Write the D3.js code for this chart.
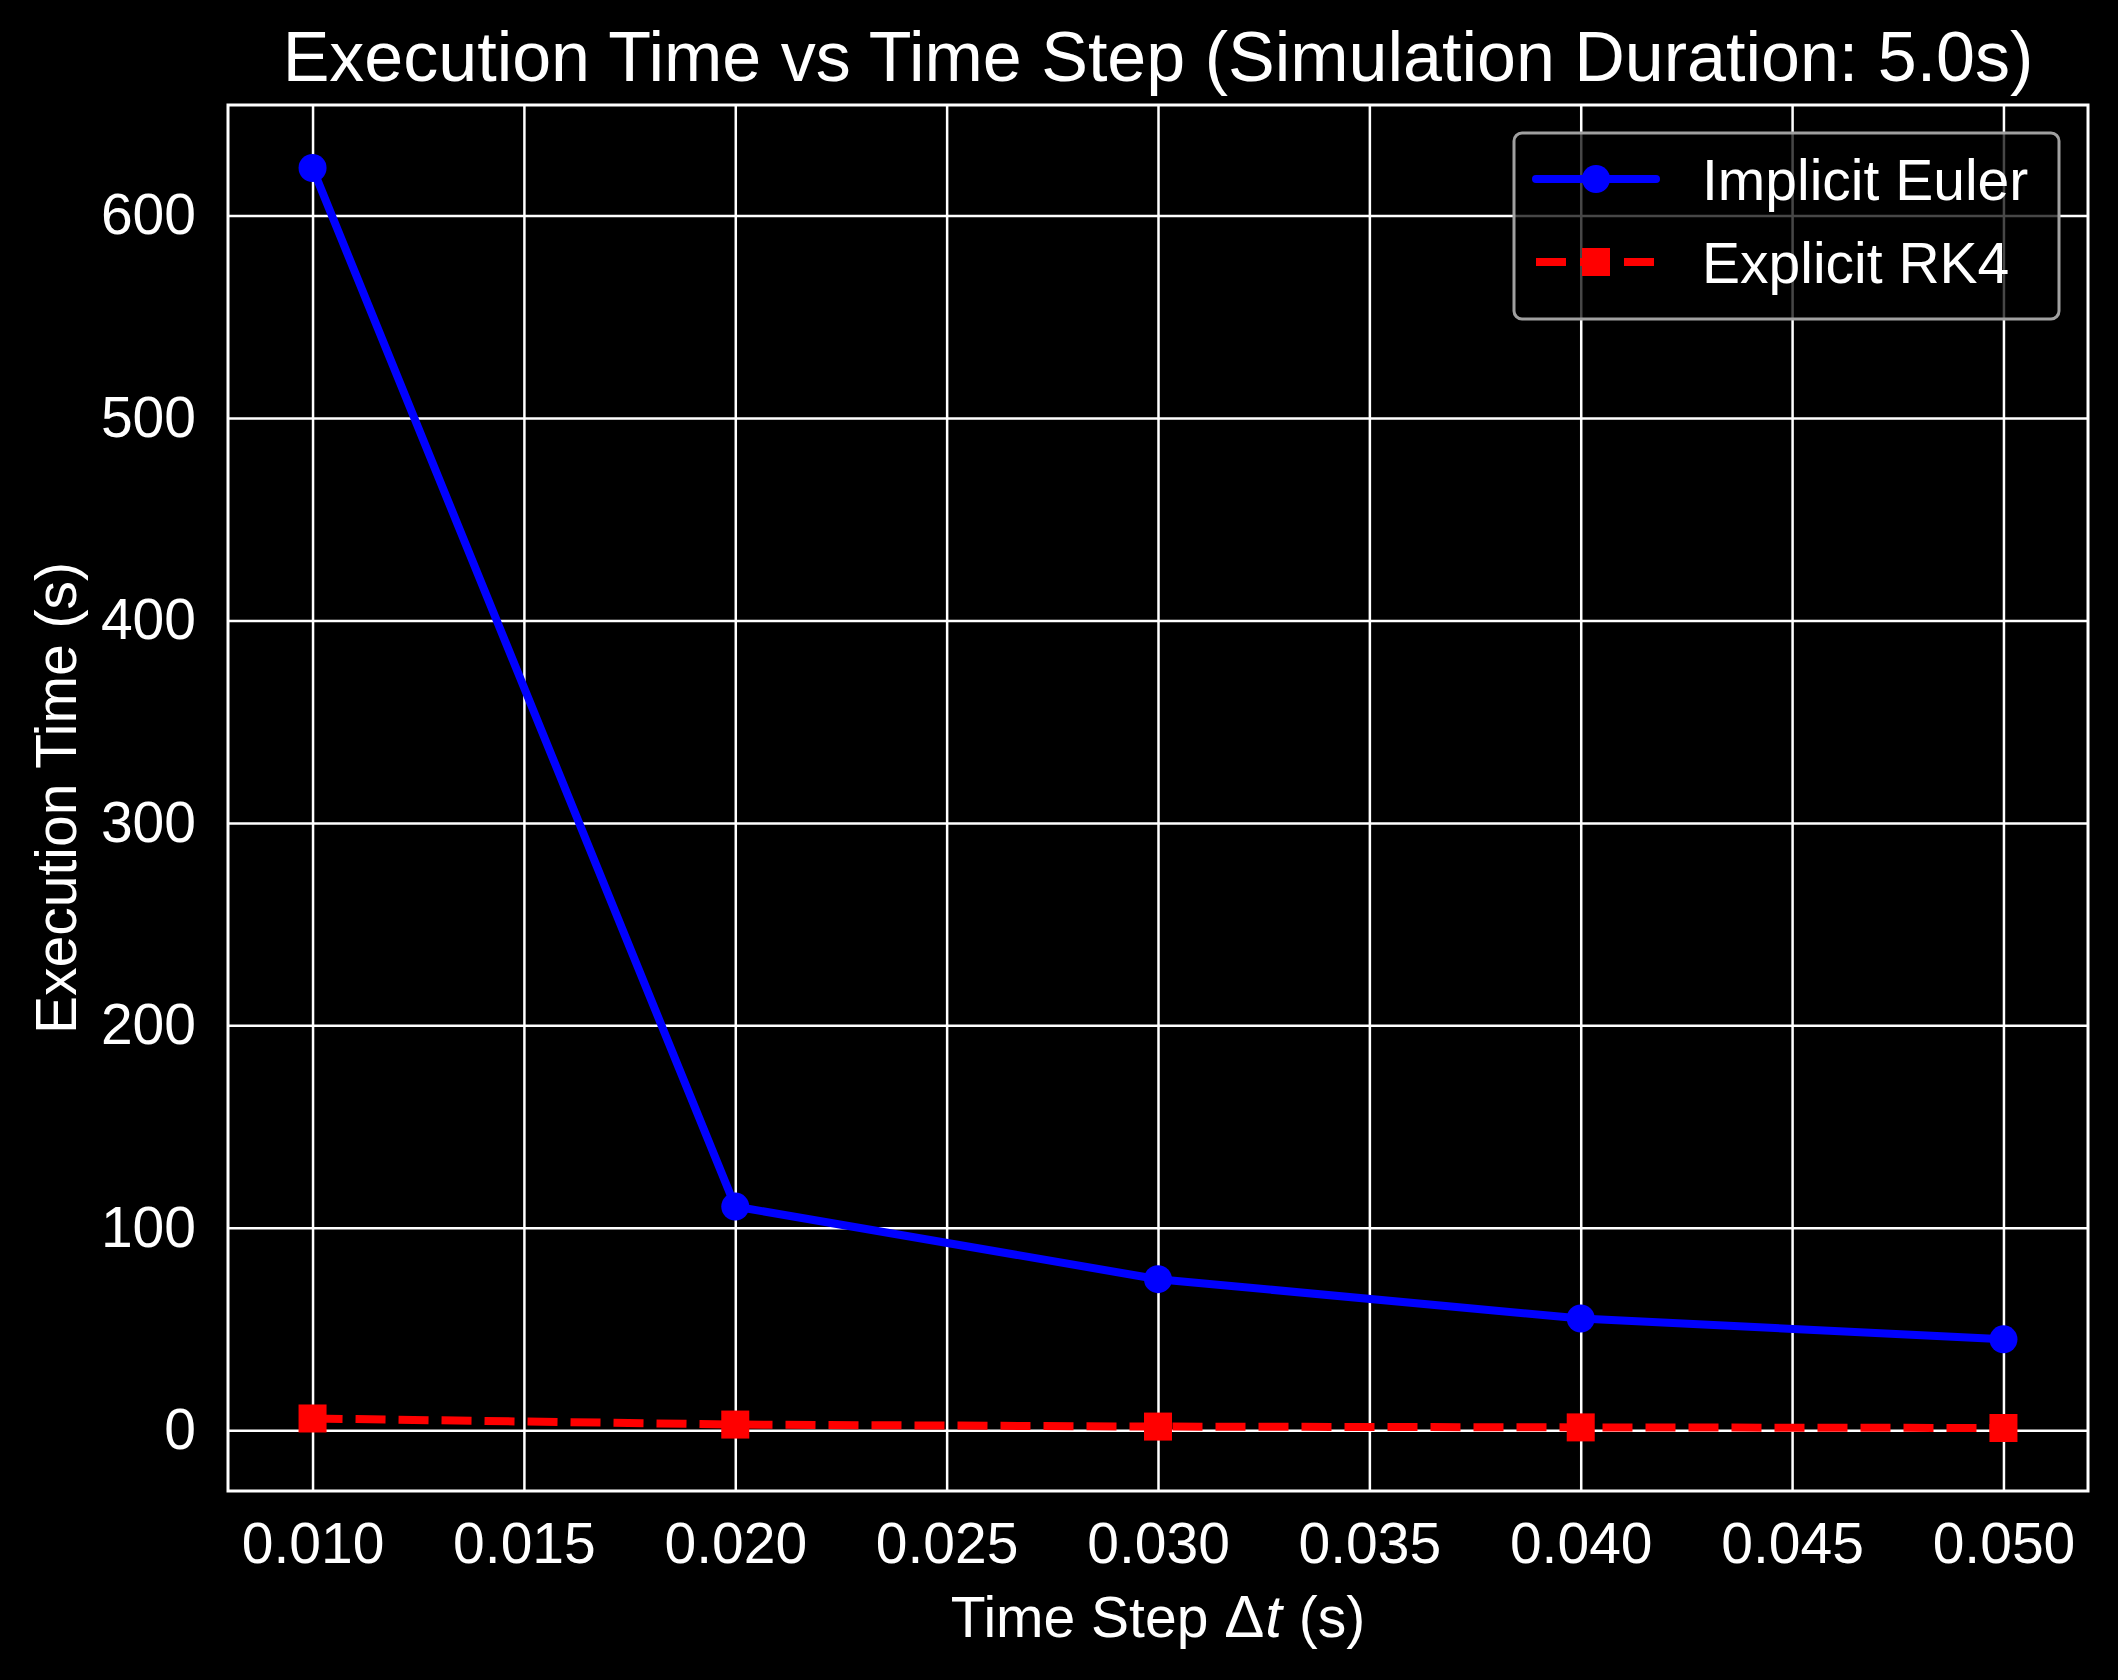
<!DOCTYPE html>
<html lang="en">
<head>
    <meta charset="UTF-8">
    <title>Execution Time vs Time Step</title>
    <script src="https://d3js.org/d3.v7.min.js"></script>
    <style>
        body { margin: 0; background-color: #000; }
        text { font-family: "Liberation Sans", Arial, sans-serif; fill: #fff; }
        .grid line { stroke: #fff; stroke-width: 2.5; }
        .grid path { display: none; }
    </style>
</head>
<body>
    <div id="chart"></div>

    <script type="text/javascript">
        // data
        const timeSteps = [0.01, 0.02, 0.03, 0.04, 0.05];
        const implicitEuler = [623.5, 110.5, 74.6, 55.2, 44.9];
        const explicitRK4 = [5.8, 2.8, 1.8, 1.4, 1.1];
        const xTicks = [0.010, 0.015, 0.020, 0.025, 0.030, 0.035, 0.040, 0.045, 0.050];
        const yTicks = [0, 100, 200, 300, 400, 500, 600];
        const seriesNames = ["Implicit Euler", "Explicit RK4"];

        const W = 2118, H = 1680;
        const margin = {top: 105, right: 30, bottom: 189, left: 228},
              width = W - margin.left - margin.right,
              height = H - margin.top - margin.bottom;

        // matplotlib style 5% padding
        function padded(ext) {
            const d = ext[1] - ext[0];
            return [ext[0] - d * 0.05, ext[1] + d * 0.05];
        }

        const x = d3.scaleLinear()
            .domain(padded(d3.extent(timeSteps)))
            .range([0, width]);
        const y = d3.scaleLinear()
            .domain(padded(d3.extent(implicitEuler.concat(explicitRK4))))
            .range([height, 0]);

        const svg = d3.select("#chart").append("svg")
            .attr("width", W)
            .attr("height", H)
            .style("background", "#000");

        const g = svg.append("g")
            .attr("transform", `translate(${margin.left},${margin.top})`);

        // grid lines
        g.append("g")
            .attr("class", "grid")
            .attr("transform", `translate(0,${height})`)
            .call(d3.axisBottom(x).tickValues(xTicks).tickSize(-height).tickFormat(""));
        g.append("g")
            .attr("class", "grid")
            .call(d3.axisLeft(y).tickValues(yTicks).tickSize(-width).tickFormat(""));

        // tick labels
        const xAxis = g.append("g")
            .attr("transform", `translate(0,${height})`)
            .call(d3.axisBottom(x).tickValues(xTicks).tickSize(0).tickPadding(72).tickFormat(d3.format(".3f")));
        const yAxis = g.append("g")
            .call(d3.axisLeft(y).tickValues(yTicks).tickSize(0).tickPadding(32).tickFormat(d3.format("d")));
        [xAxis, yAxis].forEach(a => {
            a.select(".domain").remove();
            a.selectAll("text").attr("font-size", 57).attr("fill", "#fff")
                .attr("font-family", '"Liberation Sans", Arial, sans-serif');
        });
        xAxis.selectAll("text").attr("dy", null);

        // frame
        g.append("rect")
            .attr("width", width)
            .attr("height", height)
            .attr("fill", "none")
            .attr("stroke", "#fff")
            .attr("stroke-width", 3);

        const line = d3.line()
            .x((d, i) => x(timeSteps[i]))
            .y(d => y(d));

        // Explicit RK4
        g.append("path")
            .datum(explicitRK4)
            .attr("fill", "none")
            .attr("stroke", "#ff0000")
            .attr("stroke-width", 8)
            .attr("stroke-dasharray", "30,13")
            .attr("d", line);
        g.selectAll(".sq")
            .data(explicitRK4)
            .join("rect")
            .attr("class", "sq")
            .attr("x", (d, i) => x(timeSteps[i]) - 14)
            .attr("y", d => y(d) - 14)
            .attr("width", 28)
            .attr("height", 28)
            .attr("fill", "#ff0000");

        // Implicit Euler
        g.append("path")
            .datum(implicitEuler)
            .attr("fill", "none")
            .attr("stroke", "#0000ff")
            .attr("stroke-width", 8)
            .attr("stroke-linejoin", "round")
            .attr("d", line);
        g.selectAll(".dot")
            .data(implicitEuler)
            .join("circle")
            .attr("class", "dot")
            .attr("cx", (d, i) => x(timeSteps[i]))
            .attr("cy", d => y(d))
            .attr("r", 14)
            .attr("fill", "#0000ff");

        // title and axis labels
        svg.append("text")
            .attr("x", margin.left + width / 2)
            .attr("y", 81)
            .attr("text-anchor", "middle")
            .attr("font-size", 70)
            .text("Execution Time vs Time Step (Simulation Duration: 5.0s)");

        const xl = svg.append("text")
            .attr("x", margin.left + width / 2)
            .attr("y", 1637)
            .attr("text-anchor", "middle")
            .attr("font-size", 57);
        xl.append("tspan").text("Time Step ");
        xl.append("tspan").attr("font-size", 60).text("\u0394");
        xl.append("tspan").attr("font-size", 60).attr("font-style", "italic").attr("dx", 1).text("t");
        xl.append("tspan").attr("dx", 1).text(" (s)");

        svg.append("text")
            .attr("transform", `translate(76,${margin.top + height / 2}) rotate(-90)`)
            .attr("text-anchor", "middle")
            .attr("font-size", 57)
            .text("Execution Time (s)");

        // legend
        const legend = svg.append("g").attr("transform", "translate(1514,133)");
        legend.append("rect")
            .attr("width", 545)
            .attr("height", 186)
            .attr("rx", 8)
            .attr("fill", "#000")
            .attr("fill-opacity", 0.72)
            .attr("stroke", "#a0a0a0")
            .attr("stroke-width", 3);

        const rows = legend.selectAll(".row")
            .data(seriesNames)
            .join("g")
            .attr("class", "row")
            .attr("transform", (d, i) => `translate(0,${46 + i * 83})`);
        rows.append("line")
            .attr("x1", 22).attr("x2", 142)
            .attr("stroke", (d, i) => i === 0 ? "#0000ff" : "#ff0000")
            .attr("stroke-width", 8)
            .attr("stroke-linecap", (d, i) => i === 0 ? "round" : "butt")
            .attr("stroke-dasharray", (d, i) => i === 0 ? null : "30,14");
        rows.filter((d, i) => i === 0).append("circle")
            .attr("cx", 82).attr("r", 14).attr("fill", "#0000ff");
        rows.filter((d, i) => i === 1).append("rect")
            .attr("x", 68).attr("y", -14).attr("width", 28).attr("height", 28).attr("fill", "#ff0000");
        rows.append("text")
            .attr("x", 188)
            .attr("y", 21)
            .attr("font-size", 57)
            .text(d => d);
    </script>
</body>
</html>
